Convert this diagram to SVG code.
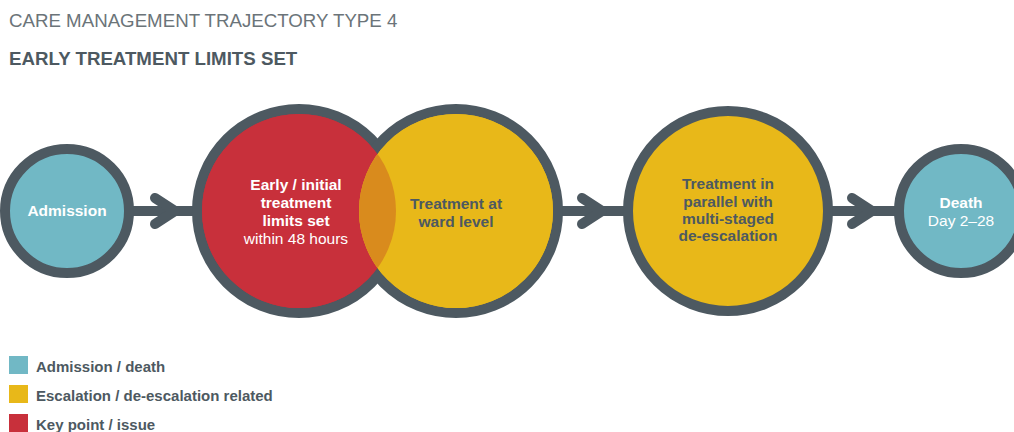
<svg xmlns="http://www.w3.org/2000/svg" width="1014" height="432" viewBox="0 0 1014 432">
<style>
.t{font-family:"Liberation Sans",Arial,sans-serif;}
.ring{stroke:#4d5961;stroke-width:10;}
.teal{fill:#71b8c5;}
.red{fill:#c8303b;}
.yel{fill:#e8b819;}
.lbl{font-family:"Liberation Sans",Arial,sans-serif;font-size:15.5px;text-anchor:middle;}
.b{font-weight:bold;}
.w{fill:#ffffff;}
.d{fill:#4d5961;}
.conn{stroke:#4d5961;stroke-width:10;fill:none;stroke-linecap:round;stroke-linejoin:round;}
.leg{font-family:"Liberation Sans",Arial,sans-serif;font-size:15px;font-weight:bold;fill:#4d5961;}
</style>
<rect width="1014" height="432" fill="#ffffff"/>
<text class="t" x="9" y="27" font-size="18.7" fill="#6b7479">CARE MANAGEMENT TRAJECTORY TYPE 4</text>
<text class="t" x="9" y="65" font-size="18.7" font-weight="bold" fill="#4d5961">EARLY TREATMENT LIMITS SET</text>

<g id="connectors">
<line class="conn" x1="130" y1="211" x2="200" y2="211" stroke-linecap="butt"/>
<polyline class="conn" points="155,198 175,211 155,224"/>
<line class="conn" x1="555" y1="211" x2="628" y2="211" stroke-linecap="butt"/>
<polyline class="conn" points="582,198 602,211 582,224"/>
<line class="conn" x1="828" y1="211" x2="898" y2="211" stroke-linecap="butt"/>
<polyline class="conn" points="852,198 872,211 852,224"/>
</g>

<g id="admission">
<circle class="ring teal" cx="67" cy="211" r="62"/>
<text class="lbl b w" x="67" y="216" font-size="15">Admission</text>
</g>

<g id="early-limits">
<circle class="ring red" cx="299" cy="211" r="102"/>
</g>
<g id="ward-level">
<circle class="ring yel" cx="456" cy="211" r="102"/>
<circle class="red" cx="299" cy="211" r="97"/>
<circle class="yel" cx="456" cy="211" r="97"/>
<clipPath id="cr"><circle cx="299" cy="211" r="97"/></clipPath>
<circle cx="456" cy="211" r="97" fill="#d98b1d" clip-path="url(#cr)"/>
<text class="lbl b d" x="456" y="209">Treatment at</text>
<text class="lbl b d" x="456" y="227">ward level</text>
</g>
<g id="early-limits-text">
<text class="lbl b w" x="296" y="190">Early / initial</text>
<text class="lbl b w" x="296" y="208">treatment</text>
<text class="lbl b w" x="296" y="226">limits set</text>
<text class="lbl w" x="296" y="244">within 48 hours</text>
</g>

<g id="parallel">
<circle class="ring yel" cx="728" cy="211" r="100"/>
<text class="lbl b d" x="728" y="189">Treatment in</text>
<text class="lbl b d" x="728" y="207">parallel with</text>
<text class="lbl b d" x="728" y="224">multi-staged</text>
<text class="lbl b d" x="728" y="241">de-escalation</text>
</g>

<g id="death">
<circle class="ring teal" cx="961" cy="211" r="62"/>
<text class="lbl b w" x="961" y="208">Death</text>
<text class="lbl w" x="961" y="226">Day 2–28</text>
</g>

<g id="legend">
<rect x="9" y="356" width="19" height="18" class="teal"/>
<text class="leg" x="36" y="372">Admission / death</text>
<rect x="9" y="385" width="19" height="18" class="yel"/>
<text class="leg" x="36" y="401">Escalation / de-escalation related</text>
<rect x="9" y="414" width="19" height="18" class="red"/>
<text class="leg" x="36" y="430">Key point / issue</text>
</g>
</svg>
